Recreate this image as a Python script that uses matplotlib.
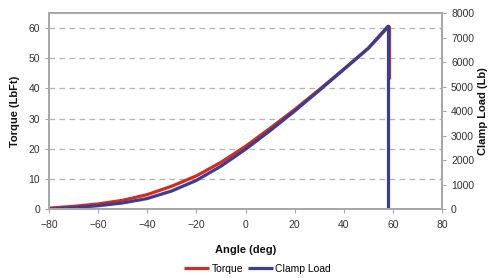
import matplotlib
matplotlib.use("Agg")
import matplotlib.pyplot as plt

# data
angle_torque = [-80, -70, -60, -50, -40, -30, -20, -10, 0, 10, 20, 30, 40, 50, 58, 58.6, 58.6]
torque = [0.3, 0.9, 1.7, 2.9, 4.8, 7.6, 11.0, 15.5, 20.8, 26.8, 33.0, 39.6, 46.4, 53.3, 60.3, 60.3, 43.0]

angle_clamp = [-80, -70, -60, -50, -40, -30, -20, -10, 0, 10, 20, 30, 40, 50, 58, 58.2, 58.2]
clamp_load = [0, 60, 135, 250, 430, 740, 1170, 1750, 2440, 3200, 4000, 4840, 5700, 6570, 7460, 7460, 0]

x_ticks = [-80, -60, -40, -20, 0, 20, 40, 60, 80]
torque_ticks = [0, 10, 20, 30, 40, 50, 60]
clamp_ticks = [0, 1000, 2000, 3000, 4000, 5000, 6000, 7000, 8000]

red = "#d42a22"
blue = "#3b3d94"
spine_col = "#a8a8a8"
txt_col = "#333333"

plt.rcParams['font.family'] = ['Liberation Sans', 'DejaVu Sans']
plt.rcParams['font.size'] = 7.5

fig = plt.figure(figsize=(4.91, 2.78), dpi=100)
ax1 = fig.add_axes([0.0998, 0.248, 0.8005, 0.705])

ax1.plot(angle_torque, torque, color=red, linewidth=2.3, label="Torque", solid_capstyle='butt')
ax1.set_xlim(-80, 80)
ax1.set_ylim(0, 65)
ax1.set_xticks(x_ticks)
ax1.set_yticks(torque_ticks)
ax1.grid(True, axis='y', color='#b4b4b4', linestyle=(0, (4.5, 3.5)), linewidth=0.9)
ax1.set_axisbelow(True)
ax1.set_xlabel("Angle (deg)", fontweight='bold', fontsize=8, color='#111111', labelpad=11)
ax1.set_ylabel("Torque (LbFt)", fontweight='bold', fontsize=8, color='#111111', labelpad=6)
ax1.tick_params(axis='x', pad=5)

ax2 = ax1.twinx()
ax2.plot(angle_clamp, clamp_load, color=blue, linewidth=2.3, label="Clamp Load", solid_capstyle='butt')
ax2.set_ylim(0, 8000)
ax2.set_yticks(clamp_ticks)
ax2.set_ylabel("Clamp Load (Lb)", fontweight='bold', fontsize=8, color='#111111', labelpad=3)

for ax in (ax1, ax2):
    for s in ax.spines.values():
        s.set_color(spine_col)
        s.set_linewidth(1.4)
    ax.tick_params(colors=spine_col, labelcolor=txt_col, length=3, width=0.8, direction='out')

h1, l1 = ax1.get_legend_handles_labels()
h2, l2 = ax2.get_legend_handles_labels()
fig.legend(h1 + h2, l1 + l2, loc='center', bbox_to_anchor=(0.525, 0.034), ncol=2,
           frameon=False, handlelength=2.4, handletextpad=0.2, columnspacing=0.5,
           fontsize=7.5)

plt.savefig("out.png", dpi=100, facecolor='white')
